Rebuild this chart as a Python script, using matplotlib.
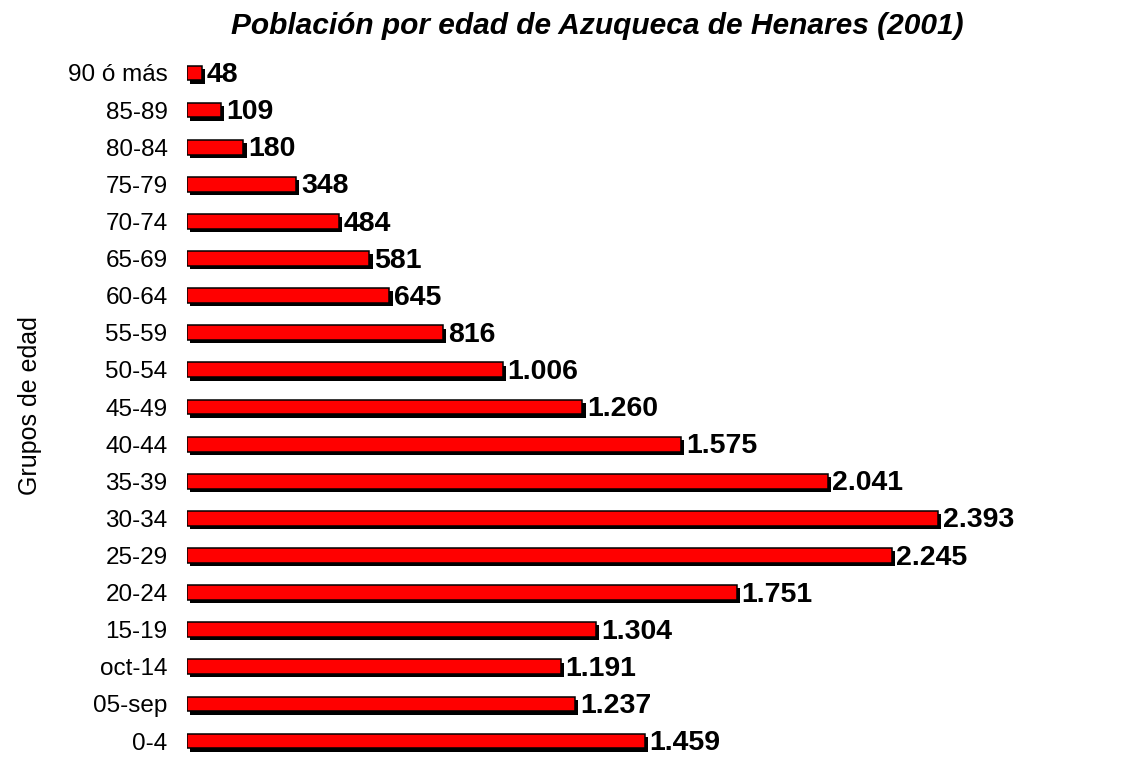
import matplotlib
matplotlib.use("Agg")
import matplotlib.pyplot as plt
import matplotlib.patheffects as pe

categories = ["0-4", "05-sep", "oct-14", "15-19", "20-24", "25-29", "30-34",
              "35-39", "40-44", "45-49", "50-54", "55-59", "60-64", "65-69",
              "70-74", "75-79", "80-84", "85-89", "90 ó más"]
values = [1459, 1237, 1191, 1304, 1751, 2245, 2393, 2041, 1575, 1260, 1006,
          816, 645, 581, 484, 348, 180, 109, 48]
title = "Población por edad de Azuqueca de Henares (2001)"
ylabel = "Grupos de edad"

plt.rcParams['font.family'] = ['Liberation Sans', 'DejaVu Sans']

W, H = 1143, 768
fig = plt.figure(figsize=(W / 100, H / 100), dpi=100)
px_per_unit = 751 / 2393
x0 = 187
xmax = 3000
top_px, bot_px = 54.4, 759.6
ax = fig.add_axes([x0 / W, 1 - bot_px / H, xmax * px_per_unit / W, (bot_px - top_px) / H])

ypos = list(range(len(categories)))
bars = ax.barh(ypos, values, height=0.4, color="#ff0000", edgecolor="black",
               linewidth=1.1)
for b in bars:
    b.set_path_effects([pe.SimplePatchShadow(offset=(2.3, -2.3), shadow_rgbFace="black", alpha=1.0),
                        pe.Normal()])

for y, v in zip(ypos, values):
    ax.annotate(f"{v:,}".replace(",", "."), xy=(v, y), xytext=(3.5, -1.5),
                textcoords="offset points", va="center", ha="left",
                fontsize=20.5, fontweight="bold", color="black")

ax.set_xlim(0, xmax)
ax.set_ylim(-0.5, len(categories) - 0.5)
ax.set_yticks(ypos)
ax.set_yticklabels(categories, fontsize=17.5)
ax.tick_params(axis="y", length=0, pad=14)
ax.set_xticks([])
for s in ax.spines.values():
    s.set_visible(False)

fig.text(30 / W, 1 - 406 / H, ylabel, rotation=90, ha="center", va="center", fontsize=18)
fig.text(597 / W, 1 - 26 / H, title, ha="center", va="center", fontsize=21.5,
         fontweight="bold", fontstyle="italic")

fig.savefig("out.png", dpi=100, facecolor="white")
